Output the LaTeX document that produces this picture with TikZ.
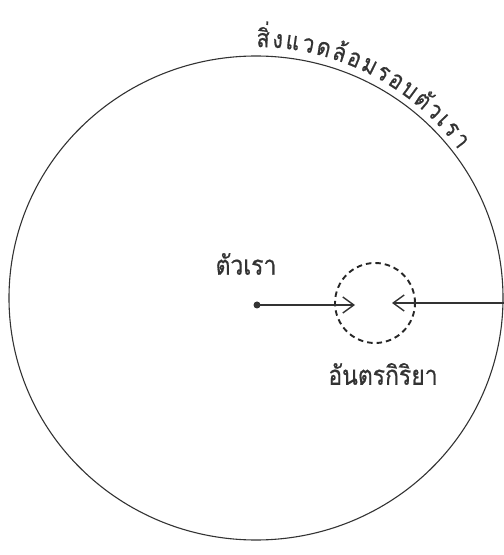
\documentclass[tikz,border=0pt]{standalone}
\usepackage{fontspec}
\newfontfamily\thaifont[Script=Thai,FakeStretch=0.85,FakeBold=0.6]{Loma}
\usetikzlibrary{arrows.meta,shapes.geometric,calc}
\newcommand\arcfont{\thaifont\fontsize{25}{28}\selectfont}
\begin{document}
\def\arclist{สิ่,ง,แ,ว,ด,ล้,อ,ม,ร,อ,บ,ตั,ว,เ,ร,า}%
\xdef\totw{0}%
\foreach \ch in \arclist {\setbox0=\hbox{\arcfont\ch}\pgfmathsetmacro\tmpw{\totw+\the\wd0}\xdef\totw{\tmpw}}%
\pgfmathsetmacro\gapw{(238-\totw)/16}%
\xdef\gapw{\gapw}%
\xdef\curang{89.9}%
\gdef\arcitems{}%
\foreach \ch in \arclist {%
  \setbox0=\hbox{\arcfont\ch}%
  \pgfmathsetmacro\w{\the\wd0}%
  \pgfmathsetmacro\ang{\curang - deg(0.5*\w/251)}%
  \pgfmathsetmacro\nxt{\curang - deg((\w+\gapw)/251)}%
  \ifx\arcitems\empty\xdef\arcitems{\ang/\ch}\else\xdef\arcitems{\arcitems,\ang/\ch}\fi
  \xdef\curang{\nxt}%
}%
\begin{tikzpicture}[x=1pt,y=1pt,
  lbl/.style={font=\thaifont\fontsize{27}{30}\selectfont, text=black!80, inner sep=0pt},
  arclbl/.style={font=\arcfont, text=black!80, inner sep=0pt},
  arr/.style={line width=1.4pt, draw=black!80, -{Straight Barb[length=11pt,width=16pt,line width=1.4pt]}}]
\useasboundingbox (0,0) rectangle (504,555);
\node[ellipse, draw=black!80, line width=1.1pt, minimum width=494pt, minimum height=484pt, inner sep=0pt] (env) at (256,257) {};
\coordinate (O) at (256,257);
\foreach \a/\ch in \arcitems {%
  \node[arclbl, rotate=\a-90, anchor=base] at ($(O)+(\a:251)$) {\ch};
}
\node[circle, fill=black!80, inner sep=0pt, minimum size=7pt] (me) at (257,250) {};
\node[circle, draw=black!85, dash pattern=on 5.5pt off 4pt, line width=1.9pt, minimum size=80pt, inner sep=0pt] (inter) at (375,252) {};
\coordinate (t1) at (355,250);
\coordinate (t2) at (392,252);
\draw[arr] (me.center) -- (t1);
\draw[arr] (env.east |- t2) -- (t2);
\node[lbl] (l1) at (246,291) {ตัวเรา};
\node[lbl] (l2) at (383,181) {อันตรกิริยา};
\end{tikzpicture}
\end{document}
